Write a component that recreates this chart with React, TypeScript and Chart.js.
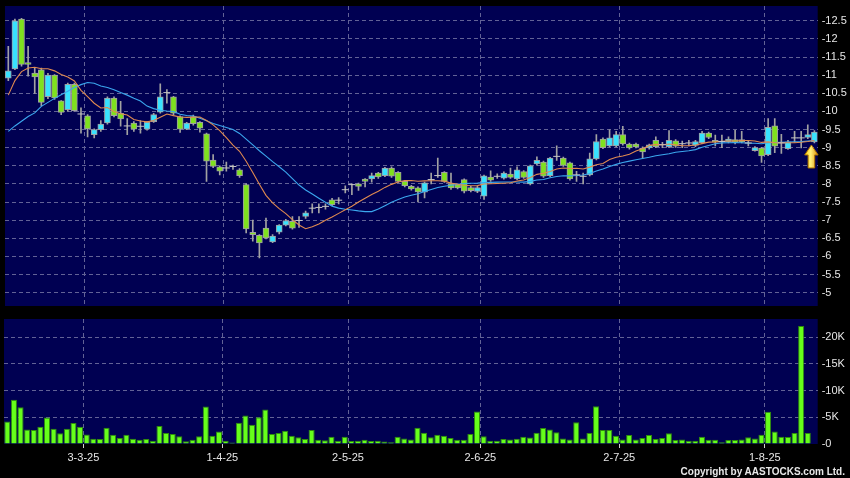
import React, { useEffect, useRef } from 'react';
import { Chart, registerables } from 'chart.js';

Chart.register(...registerables);

// Hong Kong trading days shown (13 Feb 2025 – 12 Aug 2025)
const febDays = [13, 14, 17, 18, 19, 20, 21, 24, 25, 26, 27, 28];
const marDays = [3, 4, 5, 6, 7, 10, 11, 12, 13, 14, 17, 18, 19, 20, 21, 24, 25, 26, 27, 28, 31];
const aprDays = [1, 2, 3, 7, 8, 9, 10, 11, 14, 15, 16, 17, 22, 23, 24, 25, 28, 29, 30];
const mayDays = [2, 6, 7, 8, 9, 12, 13, 14, 15, 16, 19, 20, 21, 22, 23, 26, 27, 28, 29, 30];
const junDays = [2, 3, 4, 5, 6, 9, 10, 11, 12, 13, 16, 17, 18, 19, 20, 23, 24, 25, 26, 27, 30];
const julDays = [2, 3, 4, 7, 8, 9, 10, 11, 14, 15, 16, 17, 18, 21, 22, 23, 24, 25, 28, 29, 30, 31];
const augDays = [1, 4, 5, 6, 7, 8, 11, 12];

const categories: string[] = [
  ...febDays.map((d) => `${d}-2-25`),
  ...marDays.map((d) => `${d}-3-25`),
  ...aprDays.map((d) => `${d}-4-25`),
  ...mayDays.map((d) => `${d}-5-25`),
  ...junDays.map((d) => `${d}-6-25`),
  ...julDays.map((d) => `${d}-7-25`),
  ...augDays.map((d) => `${d}-8-25`),
];

const opens = [
  10.92, 11.17, 12.55, 11.35, 11.06, 11.15, 10.41, 11.0, 10.29, 10.05,
  10.75, 9.93, 9.88, 9.36, 9.5, 9.68, 10.37, 9.95, 9.6, 9.68,
  9.59, 9.51, 9.72, 9.98, 10.52, 10.4, 9.86, 9.51, 9.86, 9.7,
  9.38, 8.66, 8.47, 8.44, 8.48, 8.39, 7.98, 6.66, 6.58, 6.78,
  6.4, 6.67, 6.86, 6.97, 6.99, 7.1, 7.33, 7.35, 7.38, 7.56,
  7.55, 7.84, 7.98, 8.0, 8.13, 8.14, 8.3, 8.23, 8.44, 8.32,
  8.07, 7.93, 7.89, 7.77, 8.12, 8.23, 8.32, 8.0, 7.98, 8.12,
  7.9, 7.79, 7.66, 8.19, 8.21, 8.16, 8.27, 8.14, 8.34, 8.0,
  8.55, 8.6, 8.23, 8.76, 8.71, 8.58, 8.25, 8.21, 8.25, 8.69,
  9.24, 9.05, 9.05, 9.36, 9.1, 9.1, 8.99, 8.99, 9.2, 9.08,
  9.03, 9.19, 9.11, 9.13, 9.06, 9.14, 9.4, 9.2, 9.17, 9.16,
  9.22, 9.22, 9.13, 8.92, 8.99, 8.81, 9.6, 9.13, 8.97, 9.27,
  9.27, 9.28, 9.16,
];

const closes = [
  11.12, 12.5, 11.3, 11.3, 10.95, 10.25, 11.0, 10.37, 9.97, 10.75,
  10.02, 9.93, 9.52, 9.5, 9.65, 10.37, 9.88, 9.79, 9.6, 9.51,
  9.59, 9.7, 9.91, 10.4, 10.52, 9.95, 9.51, 9.68, 9.66, 9.54,
  8.63, 8.48, 8.35, 8.44, 8.48, 8.23, 6.76, 6.6, 6.37, 6.51,
  6.56, 6.86, 6.99, 6.78, 6.99, 7.2, 7.33, 7.35, 7.38, 7.43,
  7.55, 7.84, 7.98, 7.93, 8.07, 8.23, 8.19, 8.44, 8.21, 8.07,
  7.95, 7.86, 7.78, 8.03, 8.12, 8.23, 8.07, 7.89, 7.89, 7.8,
  7.81, 7.9, 8.22, 8.1, 8.21, 8.3, 8.18, 8.39, 8.18, 8.5,
  8.65, 8.21, 8.71, 8.76, 8.51, 8.14, 8.25, 8.21, 8.69, 9.17,
  9.0, 9.27, 9.36, 9.1, 8.99, 9.02, 8.88, 9.08, 9.03, 9.08,
  9.2, 9.04, 9.11, 9.13, 9.17, 9.4, 9.28, 9.15, 9.17, 9.24,
  9.15, 9.16, 9.13, 9.0, 8.77, 9.56, 9.04, 9.13, 9.16, 9.27,
  9.27, 9.36, 9.43,
];

const highs = [
  11.8, 12.55, 12.57, 11.8, 11.2, 11.2, 11.05, 11.02, 10.3, 10.78,
  10.78, 10.1, 9.91, 9.52, 9.75, 10.4, 10.4, 10.28, 9.8, 9.72,
  9.75, 9.72, 9.95, 10.76, 10.6, 10.42, 9.88, 9.7, 9.9, 9.72,
  9.4, 8.81, 8.5, 8.6, 8.52, 8.42, 8.0, 7.0, 6.6, 7.06,
  6.6, 6.88, 7.02, 7.1, 7.1, 7.25, 7.45, 7.45, 7.45, 7.6,
  7.62, 7.95, 8.0, 8.02, 8.15, 8.3, 8.32, 8.46, 8.47, 8.34,
  8.1, 7.96, 7.92, 8.05, 8.3, 8.71, 8.34, 8.3, 8.0, 8.14,
  7.93, 7.93, 8.24, 8.36, 8.28, 8.33, 8.44, 8.47, 8.37, 8.52,
  8.75, 8.63, 8.73, 9.05, 8.74, 8.6, 8.35, 8.3, 8.85, 9.36,
  9.27, 9.49, 9.45, 9.59, 9.13, 9.13, 9.02, 9.1, 9.3, 9.15,
  9.47, 9.22, 9.18, 9.2, 9.2, 9.45, 9.43, 9.35, 9.35, 9.3,
  9.48, 9.45, 9.2, 9.03, 9.01, 9.8, 9.8, 9.37, 9.2, 9.45,
  9.45, 9.63, 9.47,
];

const lows = [
  10.85, 11.15, 11.25, 10.97, 10.5, 10.15, 10.35, 10.33, 9.91, 10.0,
  10.0, 9.4, 9.3, 9.27, 9.45, 9.65, 9.85, 9.59, 9.36, 9.45,
  9.4, 9.48, 9.7, 9.95, 10.23, 9.9, 9.42, 9.5, 9.62, 9.43,
  8.07, 8.45, 8.25, 8.35, 8.4, 8.18, 6.65, 6.42, 5.96, 6.48,
  6.38, 6.62, 6.84, 6.75, 6.8, 7.05, 7.2, 7.2, 7.3, 7.4,
  7.45, 7.75, 7.7, 7.82, 7.92, 8.05, 8.15, 8.2, 8.18, 8.04,
  7.92, 7.83, 7.5, 7.61, 8.0, 8.18, 8.04, 7.85, 7.86, 7.75,
  7.78, 7.76, 7.57, 8.07, 8.15, 8.13, 8.15, 8.12, 8.15, 7.97,
  8.52, 8.18, 8.2, 8.65, 8.48, 8.1, 8.07, 8.0, 8.22, 8.66,
  8.97, 9.02, 9.02, 9.07, 8.96, 8.99, 8.71, 8.96, 9.0, 9.0,
  9.0, 9.01, 9.0, 9.05, 9.03, 9.11, 9.25, 9.05, 9.0, 9.13,
  9.1, 9.13, 9.05, 8.9, 8.59, 8.78, 8.86, 8.84, 8.95, 9.15,
  8.99, 9.25, 9.13,
];

const volumes = [
  4200, 8300, 6900, 2700, 2600, 3250, 4950, 2850, 2000, 2850,
  3950, 3250, 1800, 1000, 950, 3050, 1750, 1100, 1750, 1000,
  800, 950, 600, 3350, 2050, 1850, 1450, 500, 800, 1450,
  7000, 1550, 2350, 600, 300, 4000, 5350, 3600, 5000, 6450,
  1850, 2050, 2500, 1550, 1250, 950, 2600, 800, 700, 1350,
  600, 1350, 550, 600, 800, 550, 600, 450, 350, 1350,
  1050, 850, 3050, 2100, 1250, 1750, 1550, 1100, 800, 800,
  1850, 6100, 1450, 600, 600, 950, 850, 1000, 1350, 1200,
  2100, 3000, 2700, 2200, 1050, 850, 4050, 1050, 2050, 7050,
  2600, 2600, 1550, 850, 1700, 850, 1100, 1700, 950, 1100,
  2000, 750, 850, 600, 600, 1350, 800, 800, 350, 750,
  750, 850, 1250, 1050, 1750, 6050, 2350, 1350, 1300, 2050,
  22100, 2050, 80,
];

const ma10Early = [10.45, 10.85, 11.1, 11.2, 11.22, 11.18, 11.18, 11.12, 11.02];
const ma20Early = [
  9.45, 9.6, 9.73, 9.86, 9.96, 10.14, 10.25, 10.36, 10.46, 10.56,
  10.66, 10.74, 10.8, 10.78, 10.7, 10.66, 10.6, 10.52, 10.45,
];

const priceMin = 4.63;
const priceMax = 12.91;
const priceStep = 0.5;
const volMax = 23400;
const volStep = 5000;

function sma(n: number, early: number[]): number[] {
  return closes.map((_, i) => {
    if (i < n - 1) return early[i];
    let s = 0;
    for (let k = i - n + 1; k <= i; k++) s += closes[k];
    return s / n;
  });
}

const ma10 = sma(10, ma10Early);
const ma20 = sma(20, ma20Early);

function isMonthStart(i: any): boolean {
  if (typeof i !== 'number' || i <= 0 || i >= categories.length) return false;
  return categories[i].split('-')[1] !== categories[i - 1].split('-')[1];
}

const FONT = "'Liberation Sans', Arial, sans-serif";
const NAVY = 'rgb(0,0,82)';
const GRID = 'rgb(98,98,150)';
const TEXT = '#e6e6e6';
const UP = '#38e2ff';
const DOWN = '#7fe11e';
const ORANGE = '#e08a50';
const BLUE = '#3ba7ee';

const panelBg = {
  id: 'panelBg',
  beforeDraw(chart: any) {
    const { ctx, chartArea: a } = chart;
    ctx.save();
    ctx.fillStyle = NAVY;
    ctx.fillRect(a.left, a.top, a.right - a.left, a.bottom - a.top);
    ctx.restore();
  },
};

const arrowPlugin = {
  id: 'lastArrow',
  afterDatasetsDraw(chart: any) {
    const last = closes.length - 1;
    const x = chart.scales.x.getPixelForValue(last) - 3;
    const tip = chart.scales.y.getPixelForValue(lows[last]) + 2;
    const ctx = chart.ctx;
    ctx.save();
    const g = ctx.createLinearGradient(x - 7, 0, x + 7, 0);
    g.addColorStop(0, '#ffcc00');
    g.addColorStop(0.45, '#fff07a');
    g.addColorStop(1, '#d98a00');
    ctx.beginPath();
    ctx.moveTo(x, tip);
    ctx.lineTo(x + 6.7, tip + 10);
    ctx.lineTo(x + 3.3, tip + 10);
    ctx.lineTo(x + 3.3, tip + 23);
    ctx.lineTo(x - 3.3, tip + 23);
    ctx.lineTo(x - 3.3, tip + 10);
    ctx.lineTo(x - 6.7, tip + 10);
    ctx.closePath();
    ctx.fillStyle = g;
    ctx.fill();
    ctx.strokeStyle = '#b07400';
    ctx.lineWidth = 1;
    ctx.stroke();
    ctx.restore();
  },
};

const fmtPrice = (v: any) => '-' + String(Number(Number(v).toFixed(1)));
const fmtVol = (v: any) => '-' + (Number(v) === 0 ? '0' : Math.round(Number(v) / 1000) + 'K');

function noPad(s: any) {
  s.paddingTop = 0;
  s.paddingBottom = 0;
  s.paddingLeft = 0;
  s.paddingRight = 0;
}

export default function App() {
  const mainRef = useRef<HTMLCanvasElement>(null);
  const volRef = useRef<HTMLCanvasElement>(null);

  useEffect(() => {
    document.body.style.margin = '0';
    document.body.style.background = '#000';
    Chart.defaults.font.family = FONT;

    const bodies = opens.map((o, i) => (o === closes[i] ? null : [o, closes[i]]));
    const bodyColors = opens.map((o, i) => (closes[i] > o ? UP : DOWN));
    const wicks = lows.map((l, i) => [l, highs[i]]);
    const dojis = opens.map((o, i) => (o === closes[i] ? closes[i] : null));

    const gridColor = (ctx: any) => (isMonthStart(ctx.index) ? GRID : 'transparent');

    const main = new Chart(mainRef.current as HTMLCanvasElement, {
      type: 'bar',
      data: {
        labels: categories,
        datasets: [
          {
            type: 'line',
            label: 'doji',
            data: dojis as any,
            showLine: false,
            pointStyle: 'line',
            pointRadius: 3.5,
            pointBorderColor: '#c4c4c4',
            pointBorderWidth: 1,
            order: 0,
          } as any,
          {
            type: 'line',
            label: 'SMA10',
            data: ma10,
            borderColor: ORANGE,
            borderWidth: 1.1,
            pointRadius: 0,
            order: 1,
          } as any,
          {
            type: 'line',
            label: 'SMA20',
            data: ma20,
            borderColor: BLUE,
            borderWidth: 1.1,
            pointRadius: 0,
            order: 2,
          } as any,
          {
            type: 'bar',
            label: 'body',
            data: bodies as any,
            backgroundColor: bodyColors,
            borderColor: 'rgba(165,165,165,0.95)',
            borderWidth: 1,
            borderSkipped: false,
            barThickness: 6,
            grouped: false,
            order: 3,
          } as any,
          {
            type: 'bar',
            label: 'wick',
            data: wicks as any,
            backgroundColor: '#a2a2a2',
            barThickness: 1,
            grouped: false,
            order: 4,
          } as any,
        ],
      },
      options: {
        responsive: false,
        animation: false,
        events: [],
        layout: { padding: { left: 4, right: 0, top: 6, bottom: 6 } },
        plugins: { legend: { display: false }, tooltip: { enabled: false } },
        scales: {
          x: {
            type: 'category',
            offset: true,
            grid: { offset: true, drawTicks: false, color: gridColor, lineWidth: 1 },
            border: { display: false, dash: [4, 3] },
            ticks: { display: false, autoSkip: false },
            afterFit(s: any) {
              s.height = 0;
              noPad(s);
            },
          },
          y: {
            position: 'right',
            min: priceMin,
            max: priceMax,
            grid: { color: GRID, drawTicks: false },
            border: { display: false, dash: [4, 3] },
            ticks: {
              stepSize: priceStep,
              includeBounds: false,
              color: TEXT,
              padding: 4,
              font: { family: FONT, size: 11, lineHeight: 1 },
              callback: fmtPrice,
            },
            afterFit(s: any) {
              s.width = 32.3;
              noPad(s);
            },
          },
        },
      } as any,
      plugins: [panelBg, arrowPlugin],
    });

    const vol = new Chart(volRef.current as HTMLCanvasElement, {
      type: 'bar',
      data: {
        labels: categories,
        datasets: [
          {
            label: 'Volume',
            data: volumes,
            backgroundColor: '#66ff1a',
            borderColor: '#2f8c0c',
            borderWidth: 1,
            barPercentage: 0.92,
            categoryPercentage: 1,
          },
        ],
      },
      options: {
        responsive: false,
        animation: false,
        events: [],
        layout: { padding: { left: 4, right: 0, top: 7, bottom: 0 } },
        plugins: { legend: { display: false }, tooltip: { enabled: false } },
        scales: {
          x: {
            type: 'category',
            offset: true,
            grid: {
              offset: true,
              drawTicks: true,
              tickLength: 4,
              color: gridColor,
              tickColor: (ctx: any) => (isMonthStart(ctx.index) ? '#d0d0d0' : 'transparent'),
            },
            border: { display: false, dash: [4, 3] },
            ticks: {
              autoSkip: false,
              maxRotation: 0,
              minRotation: 0,
              color: TEXT,
              padding: 3,
              labelOffset: -3.3,
              font: { family: FONT, size: 11 },
              callback: (_v: any, i: number) => (isMonthStart(i) ? categories[i] : ''),
            },
            afterFit(s: any) {
              s.height = 34;
              noPad(s);
            },
          },
          y: {
            position: 'right',
            min: 0,
            max: volMax,
            grid: {
              color: (ctx: any) => (ctx.tick && ctx.tick.value === 0 ? 'transparent' : GRID),
              drawTicks: false,
            },
            border: { display: false, dash: [4, 3] },
            ticks: {
              color: TEXT,
              padding: 4,
              font: { family: FONT, size: 11, lineHeight: 1 },
              callback: fmtVol,
            },
            afterBuildTicks(s: any) {
              const t: any[] = [];
              for (let v = 0; v <= volMax; v += volStep) t.push({ value: v });
              s.ticks = t;
            },
            afterFit(s: any) {
              s.width = 32.3;
              noPad(s);
            },
          },
        },
      } as any,
      plugins: [panelBg],
    });

    return () => {
      main.destroy();
      vol.destroy();
    };
  }, []);

  return (
    <div style={{ position: 'relative', width: 850, height: 478, background: '#000', overflow: 'hidden' }}>
      <canvas ref={mainRef} width={850} height={312} style={{ position: 'absolute', left: 0, top: 0 }} />
      <canvas ref={volRef} width={850} height={166} style={{ position: 'absolute', left: 0, top: 312 }} />
      <div
        style={{
          position: 'absolute',
          right: 5,
          top: 466,
          font: `bold 10px ${FONT}`,
          lineHeight: '12px',
          color: '#e8e8e8',
          whiteSpace: 'nowrap',
        }}
      >
        Copyright by AASTOCKS.com Ltd.
      </div>
    </div>
  );
}
